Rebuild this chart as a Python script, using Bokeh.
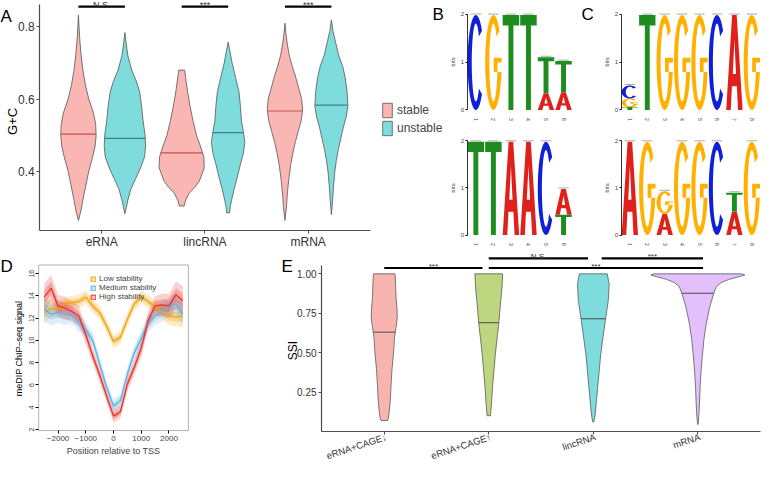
import numpy as np
from bokeh.plotting import figure
from bokeh.layouts import row, column
from bokeh.models import (Range1d, FixedTicker, Label, Legend, LegendItem,
                          NumeralTickFormatter, BoxAnnotation)
from bokeh.embed import file_html
from bokeh.resources import INLINE
from bokeh.core.properties import value

FONT = "Liberation Sans"

# ---------------- Panel A : G+C violins ----------------
a_categories = ["eRNA", "lincRNA", "mRNA"]
a_series = ["stable", "unstable"]
a_erna_stable_gc = [0.832, 0.80, 0.76, 0.72, 0.68, 0.64, 0.60, 0.56, 0.53, 0.50, 0.47, 0.44, 0.40, 0.36, 0.32, 0.29, 0.264]
a_erna_stable_dens = [0, 0.6, 1.5, 2.8, 4.5, 7, 10.5, 15.5, 17.5, 18, 17, 14.5, 10.5, 7.5, 4.5, 2.5, 0]
a_erna_unstable_gc = [0.784, 0.76, 0.72, 0.68, 0.65, 0.62, 0.58, 0.54, 0.50, 0.47, 0.44, 0.41, 0.38, 0.35, 0.32, 0.30, 0.283]
a_erna_unstable_dens = [0, 1, 3, 7, 11.5, 15, 17, 18.5, 20.5, 21, 20, 16, 11, 6, 3, 1.5, 0]
a_linc_stable_gc = [0.68, 0.66, 0.62, 0.58, 0.54, 0.50, 0.47, 0.44, 0.41, 0.373, 0.355, 0.339, 0.32, 0.304]
a_linc_stable_dens = [3, 4, 6, 8.5, 11.5, 15, 19, 22.5, 23, 18, 13, 7.5, 4, 2.5]
a_linc_unstable_gc = [0.757, 0.73, 0.70, 0.66, 0.62, 0.58, 0.54, 0.51, 0.48, 0.45, 0.42, 0.38, 0.35, 0.32, 0.30, 0.285]
a_linc_unstable_dens = [0, 2, 4, 7.5, 11, 12.5, 13.5, 15.5, 17, 15.5, 12.5, 9, 6, 3.5, 2, 1.5]
a_mrna_stable_gc = [0.81, 0.78, 0.75, 0.72, 0.69, 0.66, 0.63, 0.60, 0.57, 0.54, 0.51, 0.48, 0.45, 0.42, 0.38, 0.34, 0.30, 0.264]
a_mrna_stable_dens = [0, 1, 2.5, 4.5, 7.5, 11, 14, 17, 18, 16.5, 13.5, 10.5, 8, 6, 4, 2.5, 1.5, 0]
a_mrna_unstable_gc = [0.819, 0.79, 0.76, 0.72, 0.69, 0.66, 0.62, 0.58, 0.55, 0.52, 0.49, 0.46, 0.43, 0.40, 0.36, 0.32, 0.28]
a_mrna_unstable_dens = [0, 1.5, 4, 7.5, 11.5, 14, 16, 16.8, 15, 12, 9.5, 7, 5, 3.5, 2.2, 1.2, 0]
a_median_stable = [0.503, 0.451, 0.567]
a_median_unstable = [0.491, 0.507, 0.583]
a_signif = ["N.S.", "***", "***"]
a_signif_y = 0.856

# ---------------- Panels B / C : sequence logos (letter, bits) bottom->top ----------------
motif_b_top = [[("C", 1.98)], [("G", 1.98)], [("T", 1.98)], [("T", 1.98)],
               [("A", 0.35), ("T", 0.75)], [("A", 0.37), ("T", 0.65)]]
motif_b_bottom = [[("T", 1.98)], [("T", 1.98)], [("A", 1.98)], [("A", 1.98)],
                  [("C", 1.98)], [("T", 0.43), ("A", 0.55)]]
motif_c_top = [[("T", 0.06), ("G", 0.18), ("C", 0.27)], [("T", 1.98)], [("G", 1.98)], [("G", 1.98)],
               [("G", 1.98)], [("C", 1.98)], [("A", 1.98)], [("G", 1.98)]]
motif_c_bottom = [[("A", 1.98)], [("G", 1.98)], [("A", 0.45), ("G", 0.48)], [("G", 1.98)],
                  [("G", 1.98)], [("C", 1.98)], [("A", 0.5), ("T", 0.4)], [("G", 1.98)]]

# ---------------- Panel D : meDIP profiles ----------------
d_pos = [-2500, -2250, -2000, -1750, -1500, -1250, -1000, -750, -500, -250, 0,
         250, 500, 750, 1000, 1250, 1500, 1750, 2000, 2250, 2500]
d_low = [12.5, 12.9, 12.8, 13.3, 13.4, 13.5, 13.9, 13.1, 12.5, 11.3, 9.9,
         10.3, 11.9, 13.3, 13.9, 13.5, 13.0, 12.6, 12.2, 12.1, 12.2]
d_medium = [12.8, 12.35, 12.5, 12.3, 12.3, 11.6, 11.0, 10.0, 7.9, 5.8, 4.1,
            4.6, 7.0, 8.9, 10.2, 11.6, 12.2, 12.6, 13.0, 13.3, 12.4]
d_high = [13.9, 14.7, 13.1, 12.9, 12.6, 12.2, 10.5, 8.6, 6.9, 5.0, 3.2,
          3.6, 6.1, 7.6, 9.3, 11.8, 13.1, 13.2, 13.1, 14.1, 13.6]
d_low_se = [0.9, 0.8, 0.7, 0.6, 0.6, 0.6, 0.6, 0.6, 0.6, 0.6, 0.6,
            0.6, 0.6, 0.6, 0.6, 0.6, 0.6, 0.7, 0.8, 0.9, 1.0]
d_medium_se = [1.1, 1.0, 0.9, 0.9, 0.8, 0.8, 0.7, 0.7, 0.6, 0.6, 0.6,
               0.6, 0.6, 0.7, 0.7, 0.8, 0.8, 0.9, 0.9, 1.0, 1.1]
d_high_se = [1.2, 1.2, 1.0, 1.0, 0.9, 0.9, 0.8, 0.7, 0.7, 0.6, 0.6,
             0.6, 0.7, 0.7, 0.8, 0.8, 0.9, 1.0, 1.1, 1.2, 1.3]
d_labels = ["Low stability", "Medium stability", "High stability"]

# ---------------- Panel E : SSI violins ----------------
e_categories = ["eRNA+CAGE\u2193", "eRNA+CAGE\u2191", "lincRNA", "mRNA"]
e_cage_down_ssi = [1.00, 0.95, 0.85, 0.78, 0.72, 0.66, 0.60, 0.50, 0.40, 0.30, 0.20, 0.12, 0.08, 0.07]
e_cage_down_dens = [11, 11.5, 12, 13, 13.3, 12, 10.5, 9.5, 8, 7, 6.2, 5, 4, 3.3]
e_cage_up_ssi = [1.00, 0.915, 0.83, 0.69, 0.59, 0.49, 0.38, 0.28, 0.18, 0.10]
e_cage_up_dens = [14.2, 13.5, 12.2, 10.3, 8.5, 6.7, 5.2, 3.8, 2.8, 1.7]
e_linc_ssi = [1.00, 0.935, 0.83, 0.715, 0.588, 0.486, 0.383, 0.281, 0.179, 0.097, 0.06]
e_linc_dens = [14.2, 16.2, 15.3, 12.5, 9.7, 7.5, 6.0, 4.5, 3.0, 1.7, 0.5]
e_mrna_ssi = [1.00, 0.993, 0.982, 0.965, 0.945, 0.92, 0.877, 0.79, 0.69, 0.588, 0.486, 0.383, 0.281, 0.179, 0.097, 0.045]
e_mrna_dens = [45, 48, 42, 32, 24, 19, 16.3, 12.2, 8.8, 6.3, 4.7, 3.3, 2.3, 1.7, 1.0, 0.3]
e_medians = [0.63, 0.69, 0.715, 0.877]
e_sig_from = [1.0, 2.0, 3.08, 2.0]
e_sig_to = [1.94, 2.95, 4.05, 4.05]
e_sig_y = [1.037, 1.098, 1.098, 1.037]
e_sig_text = ["***", "N.S.", "***", "***"]

# ---------------- layout helpers (reference px -> page px) ----------------
SX = 762 / 778
SY = 461 / 477


def sx(v):
    return int(round(v * SX))


def sy(v):
    return int(round(v * SY))


GEOM = {}


def make_fig(x0, x1, y0, y1, fl, fr, ft, fb, xr, yr):
    """Frame fills the whole figure; axes sit at fixed data locations inside it."""
    kx = (fr - fl) / (xr[1] - xr[0])
    ky = (fb - ft) / (yr[1] - yr[0])
    X0 = xr[0] - (fl - x0) / kx
    X1 = xr[1] + (x1 - fr) / kx
    Y0 = yr[0] - (y1 - fb) / ky
    Y1 = yr[1] + (ft - y0) / ky
    w = sx(x1) - sx(x0)
    h = sy(y1) - sy(y0)
    p = figure(width=w, height=h, x_range=Range1d(X0, X1), y_range=Range1d(Y0, Y1),
               output_backend="svg", toolbar_location=None,
               min_border_left=0, min_border_right=0, min_border_top=0, min_border_bottom=0)
    p.outline_line_color = None
    p.xgrid.visible = False
    p.ygrid.visible = False
    p.background_fill_color = "white"
    p.border_fill_color = "white"
    p.xaxis.fixed_location = yr[0]
    p.yaxis.fixed_location = xr[0]
    p.xaxis.bounds = tuple(xr)
    p.yaxis.bounds = tuple(yr)
    for ax in p.axis:
        ax.minor_tick_line_color = None
        ax.major_label_text_font = FONT
        ax.axis_label_text_font = FONT
        ax.axis_label_text_font_style = "normal"
    GEOM[id(p)] = (x0, y0, h)
    return p


def scr(p, xref, yref):
    x0, y0, h = GEOM[id(p)]
    return sx(xref) - sx(x0), h - (sy(yref) - sy(y0))


def panel_label(p, text, xref, ytop):
    x, y = scr(p, xref, ytop)
    p.add_layout(Label(x=x, y=y, x_units="screen", y_units="screen", text=text,
                       text_font=FONT, text_font_size="17px",
                       text_baseline="top", text_align="left", text_color="black"))


def side_title(p, text, xref, yref, size):
    x, y = scr(p, xref, yref)
    p.add_layout(Label(x=x, y=y, x_units="screen", y_units="screen", text=text,
                       angle=90, angle_units="deg", text_font=FONT, text_font_size=size,
                       text_baseline="middle", text_align="center", text_color="black"))


def violin(center, ys, dens, scale):
    ys = np.asarray(ys, float)
    hw = np.asarray(dens, float) * scale
    xs = np.concatenate([center - hw, (center + hw)[::-1]])
    yy = np.concatenate([ys, ys[::-1]])
    return list(xs), list(yy), hw


def half_at(ys, hw, m):
    ys = np.asarray(ys, float)
    return float(np.interp(m, ys[::-1], hw[::-1]))


def style_gg_axis(ax, size="12px"):
    ax.axis_line_color = "#4d4d4d"
    ax.axis_line_width = 1.2
    ax.major_tick_line_color = "#4d4d4d"
    ax.major_tick_out = 3
    ax.major_tick_in = 0
    ax.major_label_text_font_size = size
    ax.major_label_text_color = "#333333"
    ax.major_label_standoff = 2


# ================= Panel A =================
pA = make_fig(0, 460, 0, 258, 40, 377, 4, 238, (0.4, 3.6), (0.237, 0.862))
A_SCALE = 1 / 105.0
DODGE = 0.225
stable_prof = [(a_erna_stable_gc, a_erna_stable_dens), (a_linc_stable_gc, a_linc_stable_dens),
               (a_mrna_stable_gc, a_mrna_stable_dens)]
unstable_prof = [(a_erna_unstable_gc, a_erna_unstable_dens), (a_linc_unstable_gc, a_linc_unstable_dens),
                 (a_mrna_unstable_gc, a_mrna_unstable_dens)]
renderers = {}
for name, profs, meds, fill, mcol, off in [
        ("stable", stable_prof, a_median_stable, "#F9B6B2", "#C9504B", -DODGE),
        ("unstable", unstable_prof, a_median_unstable, "#7EDCDD", "#3E8284", DODGE)]:
    xs_l, ys_l, mx0, mx1 = [], [], [], []
    for i, (g, d) in enumerate(profs):
        c = i + 1 + off
        xs, yy, hw = violin(c, g, d, A_SCALE)
        xs_l.append(xs)
        ys_l.append(yy)
        hh = half_at(g, hw, meds[i])
        mx0.append(c - hh)
        mx1.append(c + hh)
    renderers[name] = pA.patches(xs_l, ys_l, fill_color=fill, line_color="#555555", line_width=0.8)
    pA.segment(x0=mx0, x1=mx1, y0=meds, y1=meds, line_color=mcol, line_width=1.1)

cats = [1, 2, 3]
pA.segment(x0=[c - DODGE for c in cats], x1=[c + DODGE for c in cats],
           y0=[a_signif_y] * 3, y1=[a_signif_y] * 3, line_color="black", line_width=2.2)
pA.text(x=cats, y=[a_signif_y] * 3, y_offset=-1.5, text=a_signif, text_align="center",
        text_baseline="alphabetic", text_font=value(FONT), text_font_size="9px",
        text_color="#333333")

pA.xaxis.ticker = FixedTicker(ticks=cats)
pA.xaxis.major_label_overrides = {c: n for c, n in zip(cats, a_categories)}
pA.yaxis.ticker = FixedTicker(ticks=[0.4, 0.6, 0.8])
style_gg_axis(pA.xaxis[0])
style_gg_axis(pA.yaxis[0])
side_title(pA, "G+C", 12, 125, "13px")
lx, ly = scr(pA, 389, 142)
legA = Legend(items=[LegendItem(label=value(a_series[0]), renderers=[renderers["stable"]]),
                     LegendItem(label=value(a_series[1]), renderers=[renderers["unstable"]])],
              location=(lx, ly),
              glyph_width=12, glyph_height=18, label_height=18, spacing=0, padding=0, margin=0,
              label_standoff=4, border_line_color=None, background_fill_alpha=0,
              label_text_font=FONT, label_text_font_size="12px")
pA.add_layout(legA)
panel_label(pA, "A", 0, 6)
panel_label(pA, "B", 441, 4)

# ================= Panels B / C =================
LETTER_COLORS = {"A": "#E0201B", "C": "#1020D6", "G": "#FFB000", "T": "#1E8C1E"}


def arc(rx, ry, a0, a1, n=40):
    t = np.radians(np.linspace(a0, a1, n))
    return list(0.5 + rx * np.cos(t)), list(0.5 + ry * np.sin(t))


def glyph_shape(ch):
    if ch == "T":
        return [[([0, 1, 1, 0.65, 0.65, 0.35, 0.35, 0], [1, 1, 0.89, 0.89, 0, 0, 0.89, 0.89])]]
    if ch == "A":
        outer = ([0, 0.36, 0.64, 1, 0.72, 0.65, 0.35, 0.28], [0, 1, 1, 0, 0, 0.25, 0.25, 0])
        hole = ([0.40, 0.60, 0.5], [0.38, 0.38, 0.74])
        return [[outer, hole]]
    if ch == "C":
        ox, oy = arc(0.5, 0.5, 42, 318)
        ix, iy = arc(0.25, 0.41, 318, 42)
        return [[(ox + ix, oy + iy)]]
    ox, oy = arc(0.5, 0.5, 42, 360)
    ix, iy = arc(0.25, 0.41, 360, 42)
    bar = ([0.52, 1, 1, 0.52], [0.40, 0.40, 0.55, 0.55])
    return [[(ox + ix, oy + iy)], [bar]]


def logo_fig(x0, x1, y0, y1, fl, fr, ft, fb, motif):
    n = len(motif)
    p = make_fig(x0, x1, y0, y1, fl, fr, ft, fb, (0.5, n + 0.5), (0, 2))
    XS, YS, COLS, tops = [], [], [], []
    for i, stack in enumerate(motif):
        pos = i + 1
        base = 0.0
        for ch, hgt in stack:
            gx, gy = [], []
            for poly in glyph_shape(ch):
                px_r, py_r = [], []
                for (u, v) in poly:
                    px_r.append([pos - 0.47 + 0.94 * uu for uu in u])
                    py_r.append([base + hgt * vv for vv in v])
                gx.append(px_r)
                gy.append(py_r)
            XS.append(gx)
            YS.append(gy)
            COLS.append(LETTER_COLORS[ch])
            base += hgt
        tops.append(base)
    p.multi_polygons(xs=XS, ys=YS, fill_color=COLS, line_color=None)
    pos_list = list(range(1, n + 1))
    p.segment(x0=[q - 0.3 for q in pos_list], x1=[q + 0.3 for q in pos_list],
              y0=[t + 0.02 for t in tops], y1=[t + 0.02 for t in tops],
              line_color="#AAAAAA", line_width=1)
    p.yaxis.ticker = FixedTicker(ticks=[0, 1, 2])
    p.yaxis.major_label_text_font_size = "6px"
    p.yaxis.axis_label = "bits"
    p.yaxis.axis_label_text_font_size = "6px"
    p.yaxis.axis_label_standoff = 2
    p.yaxis.major_tick_out = 2
    p.yaxis.major_tick_in = 0
    p.yaxis.major_label_standoff = 1
    p.yaxis.axis_line_width = 0.8
    p.xaxis.ticker = FixedTicker(ticks=pos_list)
    p.xaxis.major_label_text_font_size = "5px"
    p.xaxis.major_label_orientation = "vertical"
    p.xaxis.axis_line_color = None
    p.xaxis.major_tick_line_color = None
    p.xaxis.major_label_standoff = 2
    return p


pB1 = logo_fig(460, 615, 0, 128, 476, 584, 14, 113, motif_b_top)
pB2 = logo_fig(460, 615, 128, 258, 476, 584, 145, 243, motif_b_bottom)
pC1 = logo_fig(615, 778, 0, 128, 634, 776, 14, 113, motif_c_top)
pC2 = logo_fig(615, 778, 128, 258, 634, 776, 145, 243, motif_c_bottom)
panel_label(pB1, "C", 593, 4)

# ================= Panel D =================
pD = make_fig(0, 280, 258, 477, 39, 192, 274, 445, (-2700, 2700), (1.91, 16.78))
pD.add_layout(BoxAnnotation(left=-2700, right=2700, bottom=1.91, top=16.78,
                            fill_alpha=0, line_color="black", line_width=1))
d_series = [(d_low, d_low_se, "#F5A30A", "#FBDDA6"),
            (d_medium, d_medium_se, "#5FB2E6", "#C7E4F6"),
            (d_high, d_high_se, "#E8322B", "#F7C2BE")]
leg_items = []
for (vals, se, col, light), lab in zip(d_series, d_labels):
    v = np.asarray(vals)
    s = np.asarray(se)
    pD.varea(x=d_pos, y1=list(v - s), y2=list(v + s), fill_color=col, fill_alpha=0.22)
    pD.varea(x=d_pos, y1=list(v - 0.5 * s), y2=list(v + 0.5 * s), fill_color=col, fill_alpha=0.28)
for (vals, se, col, light), lab in zip(d_series, d_labels):
    pD.line(d_pos, vals, line_color=col, line_width=1.3)
    key = pD.quad(left=[d_pos[0]], right=[d_pos[0]], top=[vals[0]], bottom=[vals[0]],
                  fill_color=light, line_color=col, line_width=1)
    key.visible = False
    leg_items.append(LegendItem(label=value(lab), renderers=[key]))
lx, ly = scr(pD, 92, 303)
legD = Legend(items=leg_items, location=(lx, ly - 8),
              glyph_width=6, glyph_height=6, label_height=9, spacing=0, padding=0, margin=0,
              label_standoff=3, border_line_color=None, background_fill_alpha=0,
              inactive_fill_alpha=0,
              label_text_font=FONT, label_text_font_size="8px")
pD.add_layout(legD)
for ax in (pD.xaxis[0], pD.yaxis[0]):
    ax.axis_line_color = None
    ax.major_tick_line_color = "black"
    ax.major_tick_out = 3
    ax.major_tick_in = 0
    ax.major_label_standoff = 2
pD.xaxis.ticker = FixedTicker(ticks=[-2000, -1000, 0, 1000, 2000])
pD.xaxis.major_label_text_font_size = "8px"
pD.yaxis.ticker = FixedTicker(ticks=[2, 4, 6, 8, 10, 12, 14, 16])
pD.yaxis.major_label_text_font_size = "7px"
pD.yaxis.major_label_orientation = "vertical"
pD.xaxis.axis_label = "Position relative to TSS"
pD.xaxis.axis_label_text_font_size = "9px"
pD.xaxis.axis_label_standoff = 2
side_title(pD, "meDIP ChIP\u2013seq signal", 18, 360, "9px")
panel_label(pD, "D", 0, 265)

# ================= Panel E =================
pE = make_fig(280, 778, 258, 477, 328, 776, 275, 446, (0.4, 4.6), (0.0, 1.05))
E_SCALE = 1 / 106.7
e_profiles = [(e_cage_down_ssi, e_cage_down_dens), (e_cage_up_ssi, e_cage_up_dens),
              (e_linc_ssi, e_linc_dens), (e_mrna_ssi, e_mrna_dens)]
e_fills = ["#F8B5B0", "#BDD67F", "#7EDCDD", "#E3BFFC"]
exs, eys, m0, m1 = [], [], [], []
for i, (g, d) in enumerate(e_profiles):
    c = i + 1
    xs, yy, hw = violin(c, g, d, E_SCALE)
    exs.append(xs)
    eys.append(yy)
    hh = half_at(g, hw, e_medians[i])
    m0.append(c - hh)
    m1.append(c + hh)
pE.patches(exs, eys, fill_color=e_fills, line_color="#5A5A5A", line_width=0.8)
pE.segment(x0=m0, x1=m1, y0=e_medians, y1=e_medians, line_color="#4A4A4A", line_width=1)
pE.segment(x0=e_sig_from, x1=e_sig_to, y0=e_sig_y, y1=e_sig_y, line_color="black", line_width=2.2)
pE.text(x=[(a + b) / 2 for a, b in zip(e_sig_from, e_sig_to)], y=e_sig_y, y_offset=-2,
        text=e_sig_text, text_align="center", text_baseline="alphabetic",
        text_font=value(FONT), text_font_size="8px", text_color="#333333")
ecats = [1, 2, 3, 4]
pE.xaxis.ticker = FixedTicker(ticks=ecats)
pE.xaxis.major_label_overrides = {c: "" for c in ecats}
style_gg_axis(pE.xaxis[0], "0px")
style_gg_axis(pE.yaxis[0], "10px")
pE.xaxis.bounds = (0.4, 4.6)
pE.yaxis.ticker = FixedTicker(ticks=[0.25, 0.5, 0.75, 1.0])
pE.yaxis.formatter = NumeralTickFormatter(format="0.00")
side_title(pE, "SSI", 298, 362, "12px")
_, yl = scr(pE, 0, 451)
for c, name in zip(ecats, e_categories):
    pE.add_layout(Label(x=c, y=yl, x_offset=2, x_units="data", y_units="screen", text=name,
                        angle=18, angle_units="deg", text_align="right", text_baseline="middle",
                        text_font=FONT, text_font_size="9.5px", text_color="#333333"))
panel_label(pE, "E", 287, 265)

layout = column(row(pA, column(pB1, pB2), column(pC1, pC2)), row(pD, pE))
open("out.html", "w").write(file_html(layout, INLINE))
